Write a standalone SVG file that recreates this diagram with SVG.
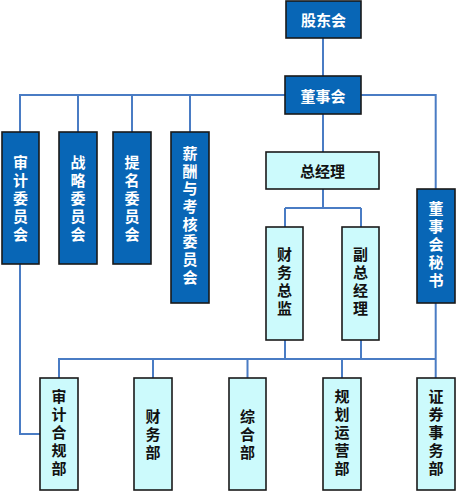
<svg xmlns="http://www.w3.org/2000/svg" width="456" height="492" viewBox="0 0 456 492">
<style>
.b{fill:#0866B6;stroke:#1a1a1a;stroke-width:1.6}
.l{fill:#CCFAFC;stroke:#1a1a1a;stroke-width:1.6}
.tw,.tk,.vw,.vk{font-family:"Noto Sans CJK SC","Microsoft YaHei",sans-serif;font-weight:bold;font-size:15px;text-anchor:middle}
.tw,.vw{fill:#fff}
.tk,.vk{fill:#111}
.tw,.tk{dominant-baseline:central}
.vw,.vk{writing-mode:vertical-rl;letter-spacing:3px}
.c{fill:none;stroke:#4A7CC4;stroke-width:2}
</style>
<rect width="456" height="492" fill="#fff"/>
<g id="connectors" class="c">
<path d="M323 38V76"/>
<path d="M285 95H20V132M78 95V132M132 95V132M190 95V132"/>
<path d="M361 95H435.7V189"/>
<path d="M323 114V152"/>
<path d="M323 189V208M285 208H361M285 208V227M361 208V227"/>
<path d="M20 264V434H40"/>
<path d="M285 340V359M361 340V359M435.7 303V378"/>
<path d="M59 378V359H435.7M153 359V378M247.5 359V378M342 359V378"/>
</g>
<g id="n-gdh"><rect class="b" x="286" y="1" width="75" height="37"/><text class="tw" x="323.5" y="19.5">股东会</text></g>
<g id="n-dsh"><rect class="b" x="285" y="76" width="76" height="38"/><text class="tw" x="323" y="95">董事会</text></g>
<g id="n-sj"><rect class="b" x="2" y="132" width="37" height="132"/><text class="vw" x="20.5" y="199.5">审计委员会</text></g>
<g id="n-zl"><rect class="b" x="59" y="132" width="38" height="132"/><text class="vw" x="78" y="199.5">战略委员会</text></g>
<g id="n-tm"><rect class="b" x="113" y="132" width="38" height="132"/><text class="vw" x="132" y="199.5">提名委员会</text></g>
<g id="n-xc"><rect class="b" x="171" y="132" width="38" height="171"/><text class="vw" x="190" y="216.5" style="letter-spacing:2.7px">薪酬与考核委员会</text></g>
<g id="n-zjl"><rect class="l" x="266" y="152" width="113" height="37"/><text class="tk" x="322.5" y="170.5">总经理</text></g>
<g id="n-cwzj"><rect class="l" x="266" y="227" width="37" height="113"/><text class="vk" x="284.5" y="283">财务总监</text></g>
<g id="n-fzjl"><rect class="l" x="342" y="227" width="37" height="113"/><text class="vk" x="360.5" y="283">副总经理</text></g>
<g id="n-dm"><rect class="b" x="417" y="189" width="38" height="114"/><text class="vw" x="436" y="246">董事会秘书</text></g>
<g id="n-sjhg"><rect class="l" x="40" y="378" width="38" height="112"/><text class="vk" x="59" y="434">审计合规部</text></g>
<g id="n-cwb"><rect class="l" x="134" y="378" width="38" height="112"/><text class="vk" x="153" y="435.5">财务部</text></g>
<g id="n-zhb"><rect class="l" x="229" y="378" width="37" height="112"/><text class="vk" x="247.5" y="435.5">综合部</text></g>
<g id="n-ghyy"><rect class="l" x="323" y="378" width="38" height="112"/><text class="vk" x="342" y="434">规划运营部</text></g>
<g id="n-zqsw"><rect class="l" x="417" y="378" width="38" height="112"/><text class="vk" x="436" y="434">证券事务部</text></g>
</svg>
